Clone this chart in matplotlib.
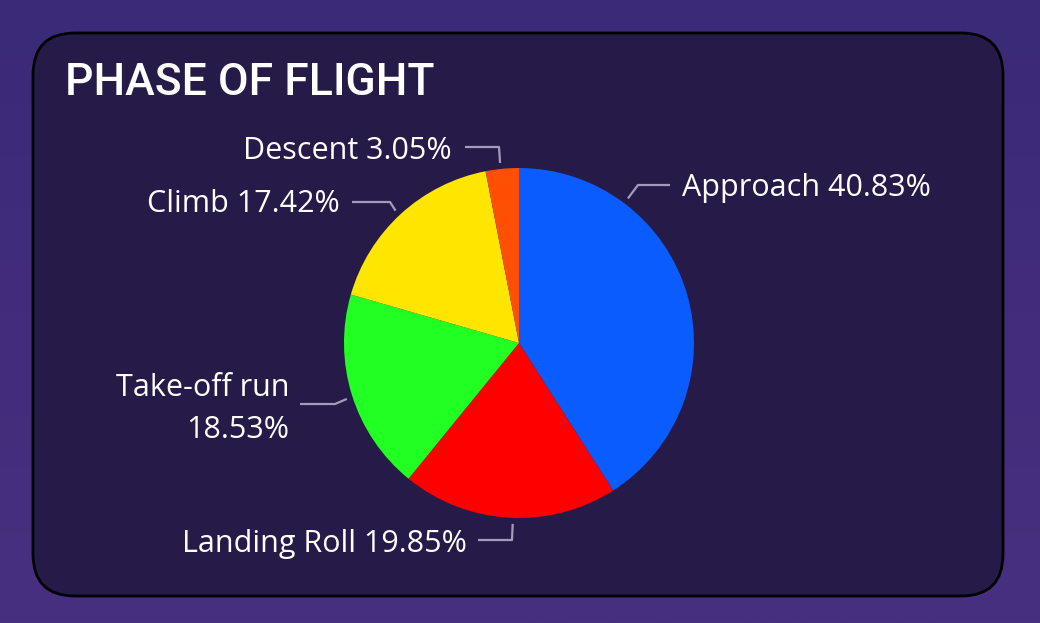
import numpy as np
import matplotlib.pyplot as plt
from matplotlib.patches import FancyBboxPatch

# data
fases = ['Approach', 'Landing Roll', 'Take-off run', 'Climb', 'Descent']
percentuais = [40.83, 19.85, 18.53, 17.42, 3.05]
cores = ['#0a5cff', '#ff0000', '#22ff22', '#ffe600', '#ff4f05']
rotulos = ['Approach 40.83%', 'Landing Roll 19.85%', 'Take-off run\n18.53%',
           'Climb 17.42%', 'Descent 3.05%']

LARG, ALT = 1040, 623
fig = plt.figure(figsize=(LARG / 100, ALT / 100), dpi=100)
ax = fig.add_axes([0, 0, 1, 1])
ax.set_xlim(0, LARG)
ax.set_ylim(0, ALT)
ax.axis('off')

# fundo em degrade
grad = np.linspace(0, 1, 256).reshape(-1, 1)
fundo = plt.matplotlib.colors.LinearSegmentedColormap.from_list('f', ['#47307f', '#3b2a78'])
ax.imshow(grad, cmap=fundo, extent=[0, LARG, 0, ALT], aspect='auto', origin='lower', zorder=0)

# painel
painel = FancyBboxPatch((33, 27), 970, 563, boxstyle='round,pad=0,rounding_size=42',
                        facecolor='#261b48', edgecolor='black', linewidth=2, zorder=1)
ax.add_patch(painel)

ax.text(65, ALT - 95, 'PHASE OF FLIGHT', color='white', fontsize=32,
        family='Roboto', fontweight='medium', ha='left', va='baseline', zorder=5)

# pizza
centro = (519, ALT - 343)
raio = 175
ax.pie(percentuais, colors=cores, startangle=90, counterclock=False,
       center=centro, radius=raio, frame=True,
       wedgeprops={'edgecolor': 'none', 'linewidth': 0, 'zorder': 3})
ax.set_xlim(0, LARG)
ax.set_ylim(0, ALT)
ax.axis('off')

# rotulos: angulo da linha, cotovelo, fim da linha, posicao do texto, alinhamento
layout = {
    'Approach':     (53, (638, 185), (670, 185), (682, 188), 'left'),
    'Landing Roll': (268, (512, 540), (478, 540), (467, 544), 'right'),
    'Take-off run': (198, (335, 404), (300, 404), (289, 409), 'right'),
    'Climb':        (133, (390, 202), (352, 202), (340, 204), 'right'),
    'Descent':      (96, (499, 147), (465, 147), (452, 151), 'right'),
}

for fase, rotulo in zip(fases, rotulos):
    ang, cot, fim, pos, ha = layout[fase]
    r = raio + 6
    x0 = centro[0] + r * np.cos(np.radians(ang))
    y0 = centro[1] + r * np.sin(np.radians(ang))
    ax.plot([x0, cot[0], fim[0]], [y0, ALT - cot[1], ALT - fim[1]],
            color='#a39bbd', linewidth=1.6, zorder=4, solid_capstyle='butt')
    ax.text(pos[0], ALT - pos[1], rotulo, color='white', fontsize=22, family='Open Sans',
            ha=ha, va='center', multialignment='right', linespacing=1.5, zorder=5)

fig.savefig('out.png', dpi=100)
